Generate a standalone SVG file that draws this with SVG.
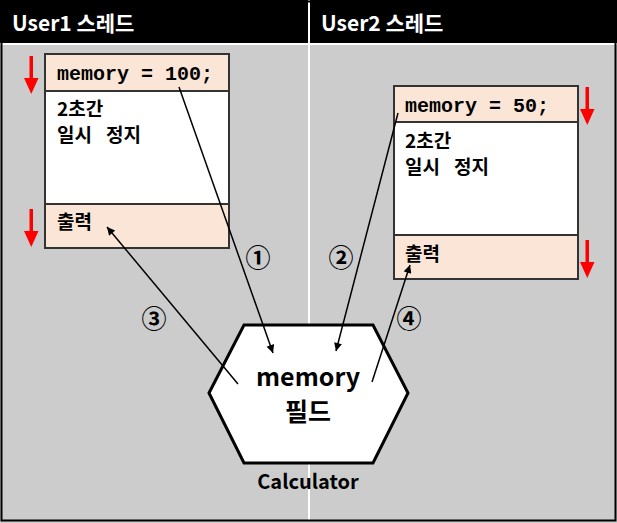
<svg xmlns="http://www.w3.org/2000/svg" width="617" height="523" viewBox="0 0 617 523">
<style>
.hdr{font-family:"Noto Sans CJK KR","Liberation Sans",sans-serif;font-weight:bold;font-size:21px;fill:#fff}
.code{font-family:"Liberation Mono","DejaVu Sans Mono",monospace;font-weight:bold;font-size:20px;fill:#000}
.ko{font-family:"Noto Sans CJK KR",sans-serif;font-weight:bold;font-size:19px;fill:#000}
.num{font-family:"Noto Sans CJK KR",sans-serif;font-weight:bold;font-size:25px;fill:#000;text-anchor:middle}
.big{font-family:"Noto Sans CJK KR",sans-serif;font-weight:bold;font-size:25px;fill:#000;text-anchor:middle}
.sec{fill:#fbe5d6;stroke:#333;stroke-width:2}
.mid{fill:#fff;stroke:#333;stroke-width:2}
.red{fill:#ff0000}
.conn{stroke:#000;stroke-width:1.5;fill:none;marker-end:url(#ah)}
</style>
<defs>
<marker id="ah" viewBox="0 0 10 10" refX="10" refY="5" markerWidth="10" markerHeight="8" markerUnits="userSpaceOnUse" orient="auto">
<path d="M0,0 L10,5 L0,10 z" fill="#000"/>
</marker>
<g id="redArrow">
<rect x="-1.5" y="0" width="3.5" height="24" class="red"/>
<path d="M-7,22 L7.5,22 L0.25,38 z" class="red"/>
</g>
</defs>
<rect x="0" y="0" width="617" height="523" fill="#cccccc"/>
<rect x="0" y="0" width="617" height="43" fill="#000"/>
<rect x="0" y="43" width="617" height="2" fill="#fff"/>
<rect x="308" y="0" width="2" height="520" fill="#fff"/>
<rect x="1.5" y="1.5" width="614" height="519" fill="none" stroke="#000" stroke-width="2"/>
<g id="header1"><text class="hdr" x="12" y="31">User1 스레드</text></g>
<g id="header2"><text class="hdr" x="321" y="31">User2 스레드</text></g>

<g id="user1box">
<rect class="sec" x="45" y="54" width="184" height="37"/>
<rect class="mid" x="45" y="91" width="184" height="113"/>
<rect class="sec" x="45" y="204" width="184" height="44"/>
<text class="code" x="57" y="80">memory = 100;</text>
<text class="ko" x="57" y="116">2초간</text>
<text class="ko" x="57" y="142"><tspan>일시</tspan><tspan x="106">정지</tspan></text>
<text class="ko" x="57" y="229">출력</text>
<use href="#redArrow" x="31" y="56"/>
<use href="#redArrow" x="31" y="209"/>
</g>

<g id="user2box">
<rect class="sec" x="394" y="86" width="184" height="36"/>
<rect class="mid" x="394" y="122" width="184" height="113"/>
<rect class="sec" x="394" y="235" width="184" height="44"/>
<text class="code" x="405" y="112">memory = 50;</text>
<text class="ko" x="405" y="148">2초간</text>
<text class="ko" x="405" y="174"><tspan>일시</tspan><tspan x="454">정지</tspan></text>
<text class="ko" x="405" y="261">출력</text>
<use href="#redArrow" x="587" y="87"/>
<use href="#redArrow" x="587" y="240"/>
</g>

<g id="calculator">
<polygon points="209,393 244,325 373,325 408,393 373,463 244,463" fill="#fff" stroke="#000" stroke-width="3"/>
<text class="big" x="308" y="386">memory</text>
<text class="big" x="308" y="421">필드</text>
<text x="308" y="489" text-anchor="middle" style="font-family:'Noto Sans CJK KR',sans-serif;font-weight:bold;font-size:20px">Calculator</text>
</g>

<g id="connectors">
<line class="conn" x1="179" y1="87" x2="273" y2="353"/>
<line class="conn" x1="398" y1="113" x2="336" y2="351"/>
<line class="conn" x1="238" y1="384" x2="107" y2="227"/>
<line class="conn" x1="372" y1="382" x2="410" y2="265"/>
<text class="num" x="258" y="267">①</text>
<text class="num" x="341" y="267">②</text>
<text class="num" x="154" y="328">③</text>
<text class="num" x="409" y="328">④</text>
</g>
</svg>
